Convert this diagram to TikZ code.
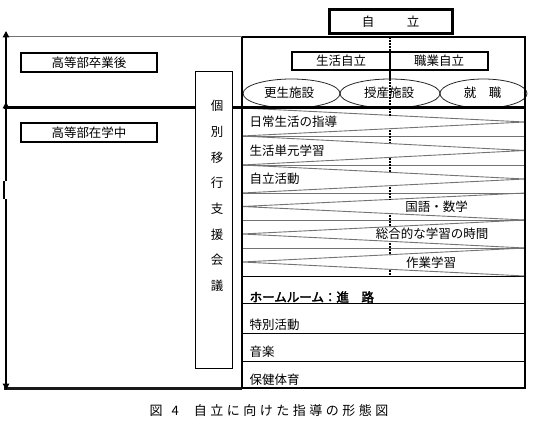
\documentclass[tikz,border=0pt]{standalone}
\usepackage{fontspec}
\setmainfont{Noto Sans CJK JP}
\newfontfamily\jpbold{Noto Sans CJK JP}[FakeBold=2.5]
\usetikzlibrary{shapes.geometric,arrows.meta}
\begin{document}
\begin{tikzpicture}[x=1pt,y=-1pt,
  lbl/.style={font=\fontsize{12.5}{14}\selectfont, inner sep=0pt},
  thinrow/.style={draw=black!55, line width=0.9pt},
  diag/.style={draw=black!55, line width=0.9pt},
  dots/.style={line width=1.6pt, dash pattern=on 1.6pt off 1.4pt},
  ell/.style={ellipse, draw=black!85, line width=0.8pt, inner sep=0pt, minimum height=29pt},
  boxthick/.style={draw, line width=2.2pt, inner sep=0pt, font=\fontsize{12.5}{14}\selectfont},
  arr/.style={line width=1.4pt, -{Triangle[length=6.5pt,width=6.5pt]}},
]
\useasboundingbox (0,0) rectangle (536,428);

% ---------- left guide lines ----------
\draw[black!55, line width=1pt] (5,37) -- (242,37);
\draw[line width=3pt, black!90] (4,388) -- (242,388);

% arrows on the left
\coordinate (aTop) at (6,31);
\coordinate (aMid) at (6,102);
\coordinate (aBot) at (6,390);
\coordinate (j1) at (6,181);
\coordinate (j2) at (6,199);
\draw[arr] (6,106) -- (aTop);
\draw[arr] (j1) -- (aMid);
\draw[line width=1.4pt] (4,181) -- (4,199);
\draw[arr] (j2) -- (aBot);

% ---------- right table rows ----------
\foreach \yy in {136,165,193,220,248}
  \draw[thinrow] (242,\yy) -- (525,\yy);
\foreach \yy in {276,303,333,361}
  \draw[line width=1pt] (242,\yy) -- (525,\yy);

% wedges
\foreach \t/\b in {108/136,136/165,165/193}
  \draw[diag] (242,\t) -- (525,{(\t+\b)/2}) -- (242,\b);
\foreach \t/\b in {193/220,220/248,248/276}
  \draw[diag] (525,\t) -- (242,{(\t+\b)/2}) -- (525,\b);

% dotted centre line
\foreach \a/\b in {37/52,79/107,108/117,130/143,158/172,187/200,215/227,243/255,270/276}
  \draw[dots] (390,\a) -- (390,\b);
\draw[line width=1.6pt] (390,70) -- (390,79);

% ellipses
\node[ell, minimum width=97pt] (e1) at (291.5,93.5) {};
\node[ell, minimum width=100pt] (e2) at (390,93.5) {};
\node[ell, minimum width=87pt] (e3) at (483.5,93.5) {};
\node[lbl] (t1) at (289,93) {更生施設};
\node[lbl] (t2) at (389,93) {授産施設};
\node[lbl] (t3) at (482.5,93) {就　職};

% thick separator
\draw[line width=3pt] (4,108) -- (525,108);

% main box
\draw[line width=1.4pt] (242,37) -- (525,37) -- (525,388) -- (242,388);
\draw[line width=2.2pt] (242,37) -- (242,388);

% top boxes
\node[boxthick, line width=3pt, minimum width=123pt, minimum height=24pt] (jiritsu) at (390.5,21.5) {自\kern32.5pt 立};
\node[boxthick, minimum width=98pt, minimum height=18pt] (seikatsu) at (341,61) {生活自立};
\node[boxthick, minimum width=98pt, minimum height=18pt] (shokugyo) at (439,61) {職業自立};

% left boxes
\node[boxthick, minimum width=136pt, minimum height=19pt] (sotsugyo) at (89,62.5) {高等部卒業後};
\node[boxthick, minimum width=136pt, minimum height=19pt] (zaigaku) at (89,132.5) {高等部在学中};

% vertical box
\node[draw, fill=white, line width=1pt, minimum width=37pt, minimum height=296pt, inner sep=0pt] (vbox) at (213.5,220) {};
\node[lbl, align=center, font=\fontsize{12.5}{25.7}\selectfont] (kaigi) at (217,196) {個\\別\\移\\行\\支\\援\\会\\議};

% row texts
\node[lbl, anchor=west] (r1) at (249.5,122) {日常生活の指導};
\node[lbl, anchor=west] (r2) at (249.5,150.5) {生活単元学習};
\node[lbl, anchor=west] (r3) at (249.5,179) {自立活動};
\node[lbl] (r4) at (436.5,207) {国語・数学};
\node[lbl] (r5) at (432,234) {総合的な学習の時間};
\node[lbl] (r6) at (431,262.5) {作業学習};
\node[lbl, anchor=west, font=\jpbold\fontsize{12.5}{14}\selectfont] (r7) at (249.5,297) {ホームルーム：進　路};
\node[lbl, anchor=west] (r8) at (249.5,325) {特別活動};
\node[lbl, anchor=west] (r9) at (249.5,352) {音楽};
\node[lbl, anchor=west] (r10) at (249.5,380) {保健体育};

% caption
\node[anchor=west, inner sep=0pt, font=\fontsize{13}{15}\selectfont] (cap) at (149.5,411)
  {図\kern9pt 4\kern15pt 自\kern3.5pt 立\kern3.5pt に\kern3.5pt 向\kern3.5pt け\kern3.5pt た\kern3.5pt 指\kern3.5pt 導\kern3.5pt の\kern3.5pt 形\kern3.5pt 態\kern3.5pt 図};
\end{tikzpicture}
\end{document}
